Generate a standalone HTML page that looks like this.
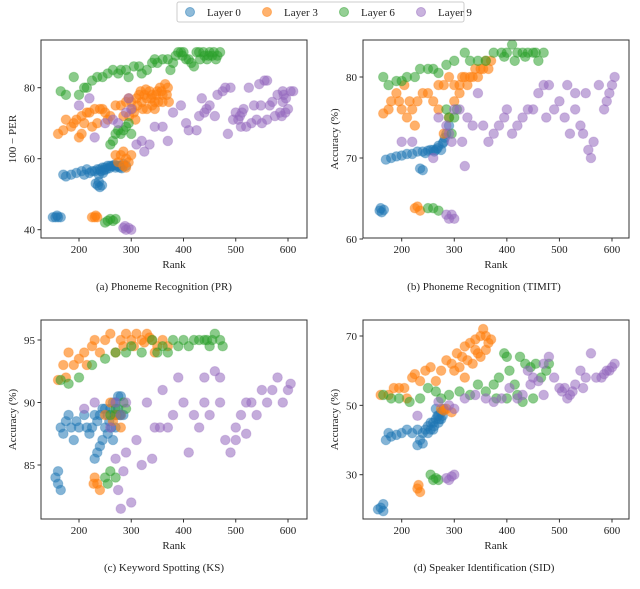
<!DOCTYPE html>
<html><head><meta charset="utf-8"><style>
body{margin:0;background:#fff;}
svg text{font-family:"Liberation Serif","DejaVu Serif",serif;fill:#222;}
</style></head><body>
<svg id="chart" width="640" height="584" xmlns="http://www.w3.org/2000/svg">
<g>
<rect x="177" y="2" width="287" height="20" rx="2" fill="#fff" stroke="#ccc"/>
<circle cx="190" cy="12" r="4.5" fill="#1f77b4" fill-opacity="0.5" stroke="#1f77b4" stroke-opacity="0.5"/><text x="207" y="16" font-size="11">Layer 0</text>
<circle cx="267" cy="12" r="4.5" fill="#ff7f0e" fill-opacity="0.6" stroke="#ff7f0e" stroke-opacity="0.5"/><text x="284" y="16" font-size="11">Layer 3</text>
<circle cx="344" cy="12" r="4.5" fill="#2ca02c" fill-opacity="0.5" stroke="#2ca02c" stroke-opacity="0.5"/><text x="361" y="16" font-size="11">Layer 6</text>
<circle cx="421" cy="12" r="4.5" fill="#9467bd" fill-opacity="0.5" stroke="#9467bd" stroke-opacity="0.5"/><text x="438" y="16" font-size="11">Layer 9</text>
</g>
</svg>
<script>
const layerNames=["Layer 0","Layer 3","Layer 6","Layer 9"];
const xTicks=[200,300,400,500,600];
const prTicks=[40,60,80];
const timitTicks=[60,70,80];
const ksTicks=[85,90,95];
const sidTicks=[30,50,70];
const pr0=[[150,43.5],[155,43.5],[160,43.5],[165,43.5],[158,44],[170,55.5],[175,55],[185,55.5],[195,56],[205,56.5],[210,55.5],[215,57],[220,56],[225,56.5],[230,56.5],[235,57],[240,57],[245,57.5],[250,57.5],[255,58],[260,58],[265,58],[270,57.5],[275,58],[280,58],[285,58.5],[290,58],[232,53],[236,52.5],[240,52],[244,52.5],[238,53.5],[242,56.5],[248,56.8],[252,57],[258,57.3],[262,57.8],[268,58.3],[272,58],[278,57.5],[282,57.3],[238,55.5],[246,56]];
const pr3=[[160,67],[170,68],[175,71],[185,69],[190,70],[195,71],[200,66],[205,67],[205,72],[210,70],[215,73],[220,73],[225,69],[230,74],[235,70],[240,74],[245,74],[250,73],[255,71],[260,72],[270,75],[280,75],[285,72],[290,76],[295,77],[300,76],[305,73],[310,77],[315,78],[320,76],[325,78],[330,77],[335,79],[340,78],[345,76],[350,79],[355,80],[360,78],[365,81],[370,80],[372,76],[330,74],[345,74],[360,76],[290,60],[280,61],[285,62],[295,59],[275,59],[300,61],[285,58],[230,43.5],[225,43.5],[235,43.5],[232,44],[318,79],[328,79.5],[338,77],[348,78],[358,79],[368,78],[352,76],[340,75],[322,74],[312,75],[302,74],[296,72],[308,71],[270,61],[290,57.5]];
const pr6=[[165,79],[175,78],[190,83],[200,78],[210,80],[215,80],[225,82],[235,83],[245,83],[255,84],[265,85],[275,84],[280,85],[290,85],[295,83],[305,86],[315,86],[330,85],[340,87],[350,87],[360,88],[370,88],[375,85],[385,89],[395,90],[400,90],[405,88],[410,88],[420,86],[425,90],[430,90],[440,89],[445,88],[450,90],[455,89],[465,89],[470,90],[265,65],[270,67],[275,68],[280,67],[285,68],[290,69],[295,70],[260,64],[250,42],[260,43],[270,43],[265,42.5],[255,42.5],[300,67],[390,90],[398,89],[415,87],[432,88],[438,90],[448,89],[458,90],[462,88],[380,87],[345,88],[320,84]];
const pr9=[[200,75],[230,66],[265,71],[275,70],[290,73],[295,77],[300,74],[310,64],[320,65],[325,62],[335,64],[345,69],[360,69],[370,65],[380,73],[395,75],[405,70],[410,68],[425,68],[430,72],[435,77],[440,73],[450,75],[460,72],[465,78],[475,79],[480,80],[490,80],[485,67],[495,71],[500,73],[505,71],[510,69],[515,74],[520,69],[525,80],[535,75],[540,71],[545,81],[555,82],[560,82],[565,75],[570,76],[575,72],[580,78],[585,73],[590,79],[595,73],[600,74],[605,79],[610,79],[530,70],[550,70],[560,71],[590,76],[285,40.5],[290,40],[295,40.5],[300,40],[288,41],[220,77],[250,70],[508,72],[512,73],[596,77],[592,78],[588,72],[548,75],[444,74]];
const ti0=[[158,63.5],[162,63.3],[166,63.6],[160,63.8],[170,69.8],[180,70],[190,70.2],[200,70.3],[210,70.5],[220,70.5],[230,70.8],[240,70.8],[250,70.9],[260,71],[270,71.5],[280,72],[285,73],[290,74],[275,71],[265,71],[235,68.7],[240,68.5],[245,70.6],[255,71],[262,70.8],[268,71.2],[278,71.8],[282,72.5]];
const ti3=[[165,75.5],[175,76],[180,77],[190,78],[195,77],[200,76],[205,79],[210,75],[215,77],[220,76],[225,74],[230,77],[240,78],[250,78],[260,77],[270,79],[280,79],[290,80],[300,79],[310,79],[320,80],[330,80],[340,81],[350,81],[360,82],[370,82],[300,77],[310,78],[270,76],[290,75],[280,73],[230,64],[235,63.5],[225,63.8],[325,79],[335,80],[345,80],[355,81],[365,81],[315,80]];
const ti6=[[165,80],[175,79],[190,79.5],[200,79.5],[210,80],[225,80],[235,81],[250,81],[260,81],[270,80.5],[285,81.5],[300,82],[320,83],[330,82],[345,82],[360,82],[375,83],[390,83],[400,83],[410,84],[420,83],[430,83],[440,83],[450,83],[460,82],[470,83],[250,63.8],[260,63.8],[270,63.5],[290,75],[295,73],[300,75],[285,76],[305,76],[395,82.5],[415,82],[435,82.5],[455,83]];
const ti9=[[200,72],[220,72],[260,70],[270,75],[285,74],[290,73],[295,72],[300,76],[310,76],[315,72],[320,69],[325,75],[335,74],[345,78],[355,74],[365,72],[375,73],[385,74],[395,75],[400,76],[410,73],[420,74],[430,75],[440,76],[450,76],[460,78],[470,79],[475,75],[490,76],[500,77],[510,75],[515,79],[520,73],[530,78],[540,74],[545,73],[550,78],[555,71],[560,70],[565,72],[575,79],[585,76],[590,77],[595,78],[600,79],[605,80],[290,62.5],[295,63],[300,62.5],[285,63],[480,79],[530,76]];
const ks0=[[155,84],[160,83.5],[165,83],[160,84.5],[165,88],[170,87.5],[175,88.5],[180,89],[185,88],[190,87],[195,88.5],[200,88],[210,89],[215,88],[220,87.5],[225,88],[230,89],[235,88.5],[240,89],[245,89.5],[250,88],[255,89],[260,89.5],[265,90],[270,90],[275,89.5],[280,90.5],[285,89],[265,87],[255,87.5],[245,87],[240,86.5],[235,86],[230,85.5],[270,88],[275,90.5],[258,88.5],[262,88],[268,89],[272,89],[278,89],[250,89.5]];
const ks3=[[160,91.8],[170,93],[175,92],[180,94],[190,93],[200,93.5],[210,94],[215,93],[225,94.5],[230,95],[240,94],[250,95],[260,95.5],[270,94],[280,95],[290,95.5],[300,95],[310,95.5],[320,95],[330,95.5],[340,95],[350,94.5],[360,95],[370,94.5],[250,89],[260,90],[270,89],[280,88],[265,88.5],[230,84],[235,83.5],[240,83],[228,83.5],[285,94.5],[305,94.5],[325,94.8],[335,95.2],[345,94]];
const ks6=[[165,91.8],[180,91.5],[200,92],[225,93],[250,93.5],[270,94],[290,94],[300,94.5],[320,94],[340,95],[350,94],[360,94.5],[380,95],[400,95],[410,94.5],[420,95],[430,95],[440,95],[450,94.5],[460,95.5],[470,95],[475,94.5],[280,89],[270,89.5],[285,90],[290,89.5],[260,89],[250,84],[260,84.5],[270,84],[255,83.5],[370,94],[390,94.5],[445,95],[455,95]];
const ks9=[[210,89.5],[230,90],[260,88],[270,90],[280,89],[290,90],[270,85.5],[275,83],[280,81.5],[285,84.5],[290,86],[300,82],[310,87],[320,85],[330,90],[340,85.5],[345,88],[355,88],[360,91],[370,88],[380,89],[390,92],[400,90],[410,86],[420,89],[430,88],[440,92],[450,89],[460,92.5],[470,90],[480,87],[490,86],[500,88],[510,89],[520,87.5],[530,90],[540,89],[550,91],[560,90],[570,91],[580,92],[590,90],[600,91],[605,91.5],[440,90],[470,92],[500,87],[520,90]];
const sid0=[[155,20],[160,20.5],[165,21.5],[165,19.5],[170,40],[175,42],[180,41],[190,41.5],[200,42],[210,43],[220,42],[230,43],[235,40],[240,42],[245,43],[250,44],[255,45],[260,45],[265,46],[270,47],[275,48],[280,49],[260,43],[250,42],[270,45],[230,38.5],[240,39],[265,49],[275,46],[255,43],[262,44],[268,47],[272,46],[278,47]];
const sid3=[[160,53],[175,53],[185,55],[195,55],[205,55],[210,52],[220,58],[225,59],[235,57],[245,60],[255,61],[265,57],[275,60],[285,63],[295,62],[305,65],[315,64],[320,67],[330,68],[340,66],[350,70],[355,72],[360,70],[365,68],[370,69],[300,60],[320,58],[335,62],[345,65],[275,49],[280,48.5],[285,49],[295,48],[230,26],[235,25],[232,27],[310,61],[325,63],[340,69],[360,66],[350,64]];
const sid6=[[165,53],[180,52],[195,52],[215,51],[235,52],[250,55],[265,54],[275,52],[290,53],[310,54],[330,53],[345,56],[360,54],[375,56],[385,58],[395,65],[400,64],[405,60],[415,56],[420,53],[425,64],[435,62],[445,61],[455,62],[465,58],[475,60],[480,62],[380,52],[400,52],[430,51],[450,52],[255,30],[265,29],[270,28.5],[260,28.5]];
const sid9=[[230,47],[270,51],[290,50],[300,49],[320,52],[340,53],[360,52],[375,51],[390,52],[405,55],[420,52],[430,53],[440,60],[445,56],[450,58],[460,57],[470,53],[480,64],[490,58],[500,55],[510,55],[520,53],[530,56],[540,60],[550,58],[560,65],[570,58],[580,58],[590,60],[600,61],[605,62],[515,52],[545,55],[470,62],[285,29],[295,29.5],[300,30],[290,28.5],[585,59],[595,60],[505,54],[525,54]];

const colors=["#1f77b4","#ff7f0e","#2ca02c","#9467bd"];
const NS="http://www.w3.org/2000/svg";
const svg=document.getElementById('chart');
function mk(tag,attrs,parent){const e=document.createElementNS(NS,tag);for(const k in attrs)e.setAttribute(k,attrs[k]);(parent||svg).appendChild(e);return e;}
const panels=[
 {id:"pr",L:41,R:307,T:40,B:238,x0:200,px0:79,x1:600,px1:288,y0:40,py0:229.7,y1:80,py1:87.7,ticks:prTicks,ylab:"100 − PER",cap:"(a) Phoneme Recognition (PR)",series:[pr0,pr3,pr6,pr9]},
 {id:"timit",L:363,R:629,T:40,B:238,x0:200,px0:401.7,x1:600,px1:612,y0:60,py0:239,y1:80,py1:77,ticks:timitTicks,ylab:"Accuracy (%)",cap:"(b) Phoneme Recognition (TIMIT)",series:[ti0,ti3,ti6,ti9]},
 {id:"ks",L:41,R:307,T:320,B:519,x0:200,px0:79,x1:600,px1:288,y0:85,py0:465,y1:95,py1:340,ticks:ksTicks,ylab:"Accuracy (%)",cap:"(c) Keyword Spotting (KS)",series:[ks0,ks3,ks6,ks9]},
 {id:"sid",L:363,R:629,T:320,B:519,x0:200,px0:401.7,x1:600,px1:612,y0:30,py0:474.7,y1:70,py1:336,ticks:sidTicks,ylab:"Accuracy (%)",cap:"(d) Speaker Identification (SID)",series:[sid0,sid3,sid6,sid9]}
];
panels.forEach(p=>{
 const xs=v=>p.px0+(v-p.x0)*(p.px1-p.px0)/(p.x1-p.x0);
 const ys=v=>p.py0+(v-p.y0)*(p.py1-p.py0)/(p.y1-p.y0);
 const g=mk('g',{});
 
 
 const clipId='clip-'+p.id;
 const cp=mk('clipPath',{id:clipId},g);mk('rect',{x:p.L,y:p.T,width:p.R-p.L,height:p.B-p.T},cp);
 const pts=mk('g',{'clip-path':'url(#'+clipId+')'},g);
 p.series.forEach((s,i)=>{
  const sg=mk('g',{},pts);
  
  
  s.forEach(d=>{
   const c=mk('circle',{cx:xs(d[0]),cy:ys(d[1]),r:4.8,fill:colors[i],'fill-opacity':i==1?0.62:0.55,stroke:colors[i],'stroke-opacity':0.3},sg);
   
   
  });
 });
 const fr=mk('rect',{x:p.L,y:p.T,width:p.R-p.L,height:p.B-p.T,fill:'none',stroke:'#333','stroke-width':1},g);
 
 
 xTicks.forEach(t=>{
  const x=xs(t);
  mk('line',{x1:x,x2:x,y1:p.B,y2:p.B+3.5,stroke:'#333'},g);
  const tx=mk('text',{x:x,y:p.B+15,'font-size':11,'text-anchor':'middle'},g);tx.textContent=t;
  
  
 });
 p.ticks.forEach(t=>{
  const y=ys(t);
  mk('line',{x1:p.L-3.5,x2:p.L,y1:y,y2:y,stroke:'#333'},g);
  const tx=mk('text',{x:p.L-6,y:y+4,'font-size':11,'text-anchor':'end'},g);tx.textContent=t;
  
  
 });
 const xl=mk('text',{x:(p.L+p.R)/2,y:p.B+30,'font-size':11,'text-anchor':'middle'},g);xl.textContent="Rank";
 
 
 const yl=mk('text',{x:0,y:0,'font-size':11,'text-anchor':'middle',transform:'translate('+(p.L-25)+','+((p.T+p.B)/2)+') rotate(-90)'},g);yl.textContent=p.ylab;
 
 
 const cap=mk('text',{x:(p.L+p.R)/2+(p.L<100?-10:-12),y:p.B+52,'font-size':11,'text-anchor':'middle'},g);cap.textContent=p.cap;
 
 
});
</script>
</body></html>
